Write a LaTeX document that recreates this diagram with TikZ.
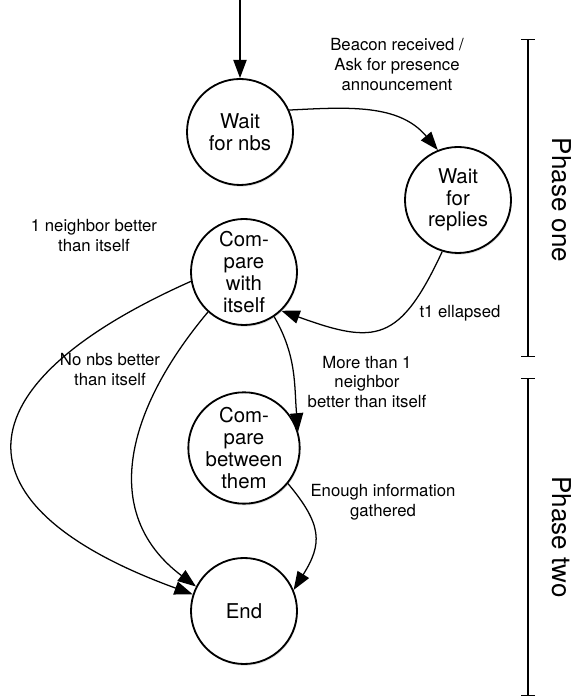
\documentclass[tikz,border=0pt]{standalone}
\usepackage{fontspec}
\setmainfont{TeX Gyre Heros}
\usetikzlibrary{arrows.meta, shadows}

\begin{document}
\begin{tikzpicture}[
    st/.style={circle, draw, line width=1.3pt, fill=white, minimum size=2.65cm, inner sep=0pt,
        align=center, font=\fontsize{14.5}{15.5}\selectfont,
        drop shadow={shadow xshift=0.6pt, shadow yshift=-1.2pt, opacity=0.25}},
    lab/.style={align=center, font=\fontsize{11.9}{14.2}\selectfont},
    tr/.style={line width=0.9pt, -{Triangle[length=13pt,width=9.5pt]}},
    phase/.style={font=\fontsize{18.5}{20}\selectfont, rotate=-90}
]
    \useasboundingbox (0,0) rectangle (14.4,17.5);

    % States
    \node[st] (nbs) at (6.0,14.2) {Wait\\for nbs};
    \node[st] (replies) at (11.45,12.5) {Wait\\for\\replies};
    \node[st] (itself) at (6.1,10.7) {Com-\\pare\\with\\itself};
    \node[st] (between) at (6.1,6.3) {Com-\\pare\\between\\them};
    \node[st] (end) at (6.1,2.225) {End};

    % Initial arrow
    \coordinate (start) at (6.0,17.5);
    \draw[tr] (start) -- (nbs);

    % Transitions
    \draw[tr] (nbs.24) to[out=3,in=130] (replies.112);
    \draw[tr] (replies.253) to[out=245,in=340,looseness=1.5] (itself.314);
    \draw[tr] (itself.304) to[out=300,in=95] (between.17);
    \draw[tr] (itself.190) to[out=204,in=160,looseness=2.1] (end.162);
    \draw[tr] (itself.228) to[out=230,in=143,looseness=1.15] (end.153);
    \draw[tr] (between.321) to[out=310,in=58,looseness=1.3] (end.23);

    % Transition labels
    \node[lab] (lbeacon) at (9.925,15.875) {Beacon received /\\Ask for presence\\announcement};
    \node[lab] (lt1) at (11.5,9.675) {t1 ellapsed};
    \node[lab] (lone) at (2.35,11.6) {1 neighbor better\\than itself};
    \node[lab] (lnone) at (2.75,8.25) {No nbs better\\than itself};
    \node[lab] (lmore) at (9.175,7.95) {More than 1\\neighbor\\better than itself};
    \node[lab] (lenough) at (9.575,4.95) {Enough information\\gathered};

    % Phases
    \coordinate (oneTop) at (13.2,16.525);
    \coordinate (oneBot) at (13.2,8.575);
    \coordinate (twoTop) at (13.2,8.05);
    \coordinate (twoBot) at (13.2,0.1);
    \draw[line width=0.9pt, {Bar[width=10pt]}-{Bar[width=10pt]}] (oneTop) -- (oneBot);
    \draw[line width=0.9pt, {Bar[width=10pt]}-{Bar[width=10pt]}] (twoTop) -- (twoBot);
    \node[phase] (pone) at (14.05,12.5) {Phase one};
    \node[phase] (ptwo) at (14.05,4.075) {Phase two};
\end{tikzpicture}
\end{document}
